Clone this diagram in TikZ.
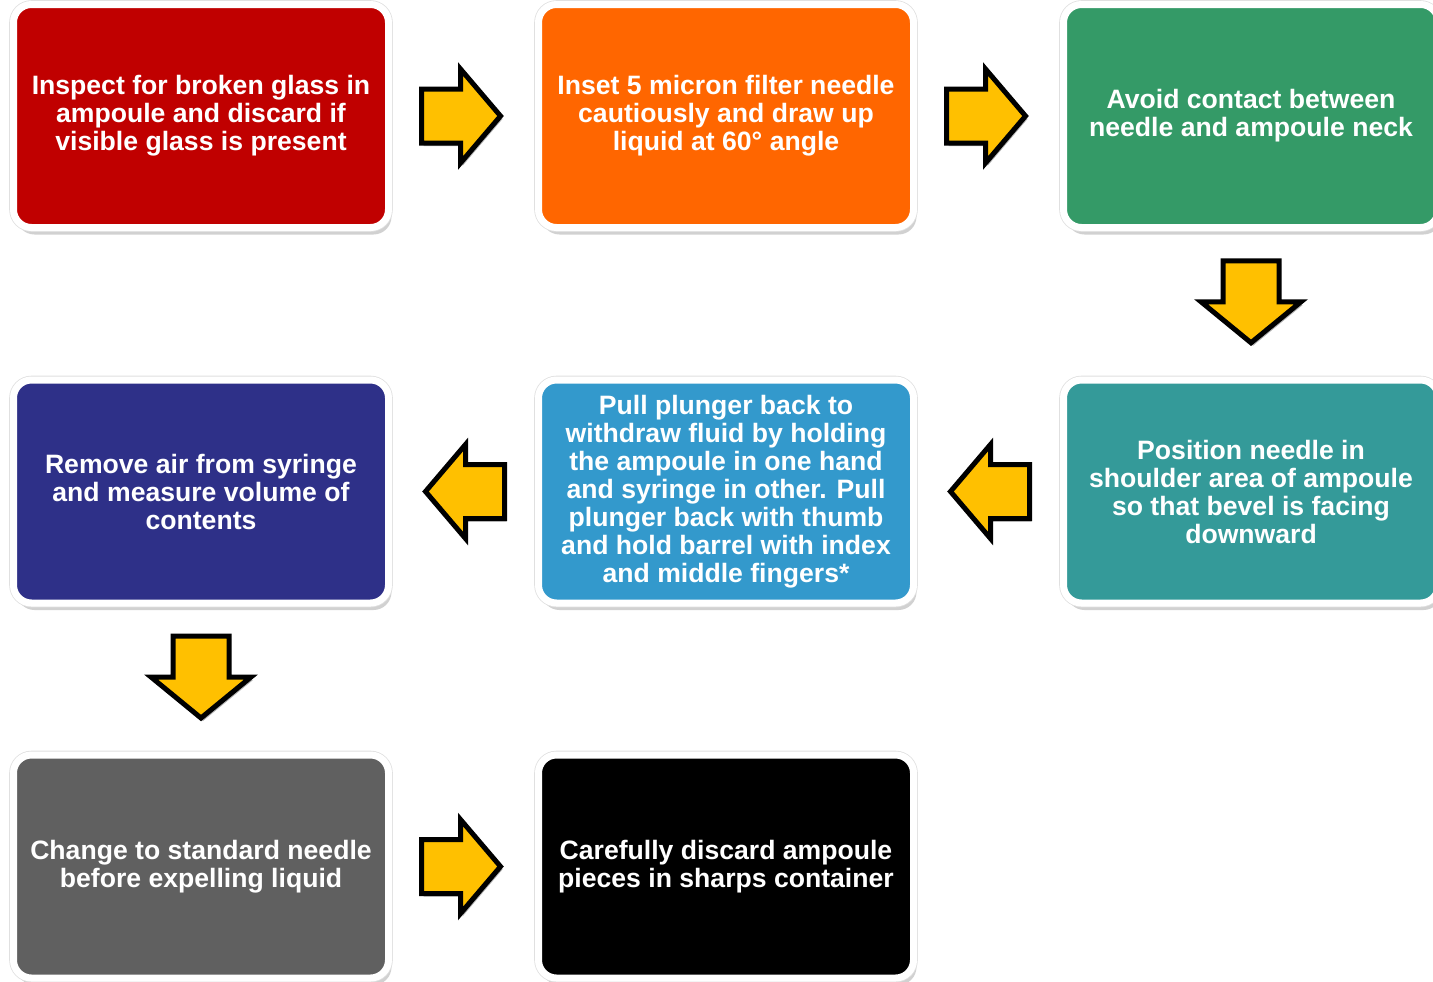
\documentclass[tikz,border=0pt]{standalone}
\usepackage{fontspec}
\setmainfont{Liberation Sans}
\usetikzlibrary{shadows,calc}
\definecolor{cRed}{HTML}{C00000}
\definecolor{cOrange}{HTML}{FF6600}
\definecolor{cGreen}{HTML}{349A67}
\definecolor{cNavy}{HTML}{2E3088}
\definecolor{cSky}{HTML}{3399CC}
\definecolor{cTeal}{HTML}{349A99}
\definecolor{cGray}{HTML}{606060}
\definecolor{cBlack}{HTML}{000000}
\definecolor{arrowYellow}{HTML}{FFC000}
\begin{document}
\begin{tikzpicture}[x=0.5pt,y=-0.5pt,
  stepbox/.style={rounded corners=9pt, draw=white, line width=3.5pt,
    minimum width=187.5pt, minimum height=111.5pt, text=white,
    font=\bfseries\fontsize{13.3}{14}\selectfont, align=center, inner sep=0pt,
    drop shadow={shadow xshift=1.5pt, shadow yshift=-3.5pt, opacity=0.18, fill=black},
    preaction={draw=black!12, line width=4.3pt}},
  blockarrow/.style={draw=black, line width=2.5pt, fill=arrowYellow, line join=miter,
    drop shadow={shadow xshift=1pt, shadow yshift=-1.5pt, opacity=0.3, fill=black}}]
\useasboundingbox (0,0) rectangle (1433,981);
\clip (0,0) rectangle (1433,981);
% row 1
\node[stepbox, fill=cRed]    (s1) at (201,116) {Inspect for broken glass in\\ampoule and discard if\\visible glass is present};
\node[stepbox, fill=cOrange] (s2) at (726,116) {Inset 5 micron filter needle\\cautiously and draw up\\liquid at 60° angle};
\node[stepbox, fill=cGreen]  (s3) at (1251,116) {Avoid contact between\\needle and ampoule neck};
% row 2
\node[stepbox, fill=cTeal]   (s4) at (1251,491.5) {Position needle in\\shoulder area of ampoule\\so that bevel is facing\\downward};
\node[stepbox, fill=cSky]    (s5) at (726,491.5) {Pull plunger back to\\withdraw fluid by holding\\the ampoule in one hand\\and syringe in other. Pull\\plunger back with thumb\\and hold barrel with index\\and middle fingers*};
\node[stepbox, fill=cNavy]   (s6) at (201,491.5) {Remove air from syringe\\and measure volume of\\contents};
% row 3
\node[stepbox, fill=cGray]   (s7) at (201,866.5) {Change to standard needle\\before expelling liquid};
\node[stepbox, fill=cBlack]  (s8) at (726,866.5) {Carefully discard ampoule\\pieces in sharps container};
% midpoints
\coordinate (m12) at ($(s1.east)!0.5!(s2.west)+(-3,0)$);
\coordinate (m23) at ($(s2.east)!0.5!(s3.west)+(-3,0)$);
\coordinate (m34) at ($(s3.south)!0.5!(s4.north)+(0,-2)$);
\coordinate (m45) at ($(s4.west)!0.5!(s5.east)+(2,0)$);
\coordinate (m56) at ($(s5.west)!0.5!(s6.east)+(2,0)$);
\coordinate (m67) at ($(s6.south)!0.5!(s7.north)+(0,-2)$);
\coordinate (m78) at ($(s7.east)!0.5!(s8.west)+(-3,0)$);
% right arrows
\foreach \m in {m12,m23,m78}{
  \draw[blockarrow] (\m) ++(-39,-27) -- ++(39,0) -- ++(0,-20) -- ++(40,47) -- ++(-40,47) -- ++(0,-20) -- ++(-39,0) -- cycle;
}
% left arrows
\foreach \m in {m45,m56}{
  \draw[blockarrow] (\m) ++(39,-27) -- ++(-39,0) -- ++(0,-20) -- ++(-40,47) -- ++(40,47) -- ++(0,-20) -- ++(39,0) -- cycle;
}
% down arrows
\foreach \m in {m34,m67}{
  \draw[blockarrow] (\m) ++(-28,-41) -- ++(56,0) -- ++(0,41) -- ++(22,0) -- ++(-50,41) -- ++(-50,-41) -- ++(22,0) -- cycle;
}
\end{tikzpicture}
\end{document}
